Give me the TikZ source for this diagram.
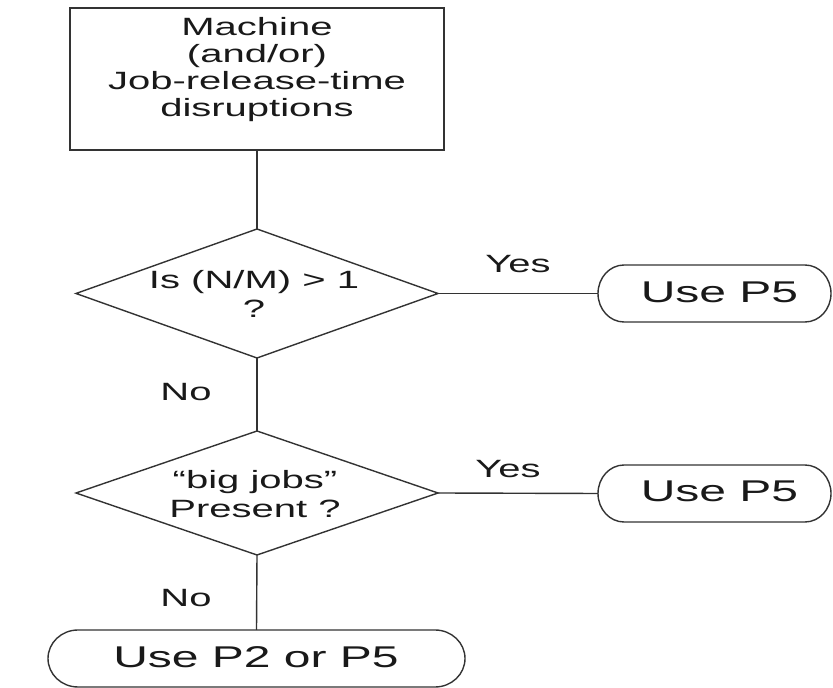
\documentclass[tikz,border=0pt]{standalone}
\usepackage{fontspec}
\setmainfont{Liberation Sans}[FakeStretch=1.6]
\usetikzlibrary{shapes.geometric}
\begin{document}
\begin{tikzpicture}[x=1pt,y=1pt,
  line/.style={draw=black!80, line width=1.4pt},
  boxnode/.style={line, rectangle, inner sep=0pt, outer sep=0pt},
  decision/.style={line, diamond, inner sep=0pt, outer sep=0pt},
  termnode/.style={rectangle, inner sep=0pt, outer sep=0pt},
  txt/.style={inner sep=0pt, text=black!90, font=\fontsize{25}{29}\selectfont, align=center},
  bigtxt/.style={inner sep=0pt, text=black!90, font=\fontsize{30}{34}\selectfont},
]
\useasboundingbox (0,0) rectangle (833,688);

% start box
\node[boxnode, minimum width=374pt, minimum height=142pt] (box) at (257,609) {};
\node[txt, font=\fontsize{25}{27}\selectfont, anchor=north] (boxtxt) at (257,671)
  {Machine\\(and/or)\\Job-release-time\\disruptions};

% decisions
\node[decision, minimum width=362pt, minimum height=129pt] (d1) at (257,394.5) {};
\node[txt, anchor=north] (d1txt) at (254,418) {Is (N/M) > 1\\?};
\node[decision, minimum width=362pt, minimum height=124pt] (d2) at (257,195) {};
\node[txt, anchor=north] (d2txt) at (255,218) {“big jobs”\\Present ?};

% terminals
\node[termnode, minimum width=233pt, minimum height=57pt] (p5a) at (714.5,394.5) {};
\node[termnode, minimum width=233pt, minimum height=57pt] (p5b) at (714.5,194.5) {};
\node[termnode, minimum width=417pt, minimum height=57pt] (fin) at (256.5,29.5) {};

\foreach \t/\r in {p5a/26, p5b/26, fin/30}{
  \draw[line] ([xshift=\r pt]\t.north west) -- ([xshift=-\r pt]\t.north east)
    arc[start angle=90, end angle=-90, x radius=\r pt, y radius=28.5pt]
    -- ([xshift=\r pt]\t.south west)
    arc[start angle=270, end angle=90, x radius=\r pt, y radius=28.5pt] -- cycle;
}
\node[bigtxt, anchor=base] (p5atxt) at (719.5,385) {Use P5};
\node[bigtxt, anchor=base] (p5btxt) at (719.5,186) {Use P5};
\node[bigtxt, anchor=base] (fintxt) at (256,20) {Use P2 or P5};

% connectors
\draw[line] (box.south) -- (d1.north);
\draw[line] (d1.east) -- (p5a.west);
\draw[line] (d1.south) -- (d2.north);
\draw[line] (d2.east) -- (p5b.west);
\draw[line] (d2.south) -- (fin.north);

% branch labels
\node[txt, anchor=base] (yes1) at (518,415) {Yes};
\node[txt, anchor=base] (yes2) at (508,210) {Yes};
\node[txt, anchor=base] (no1) at (186,287) {No};
\node[txt, anchor=base] (no2) at (186,81) {No};
\end{tikzpicture}
\end{document}
